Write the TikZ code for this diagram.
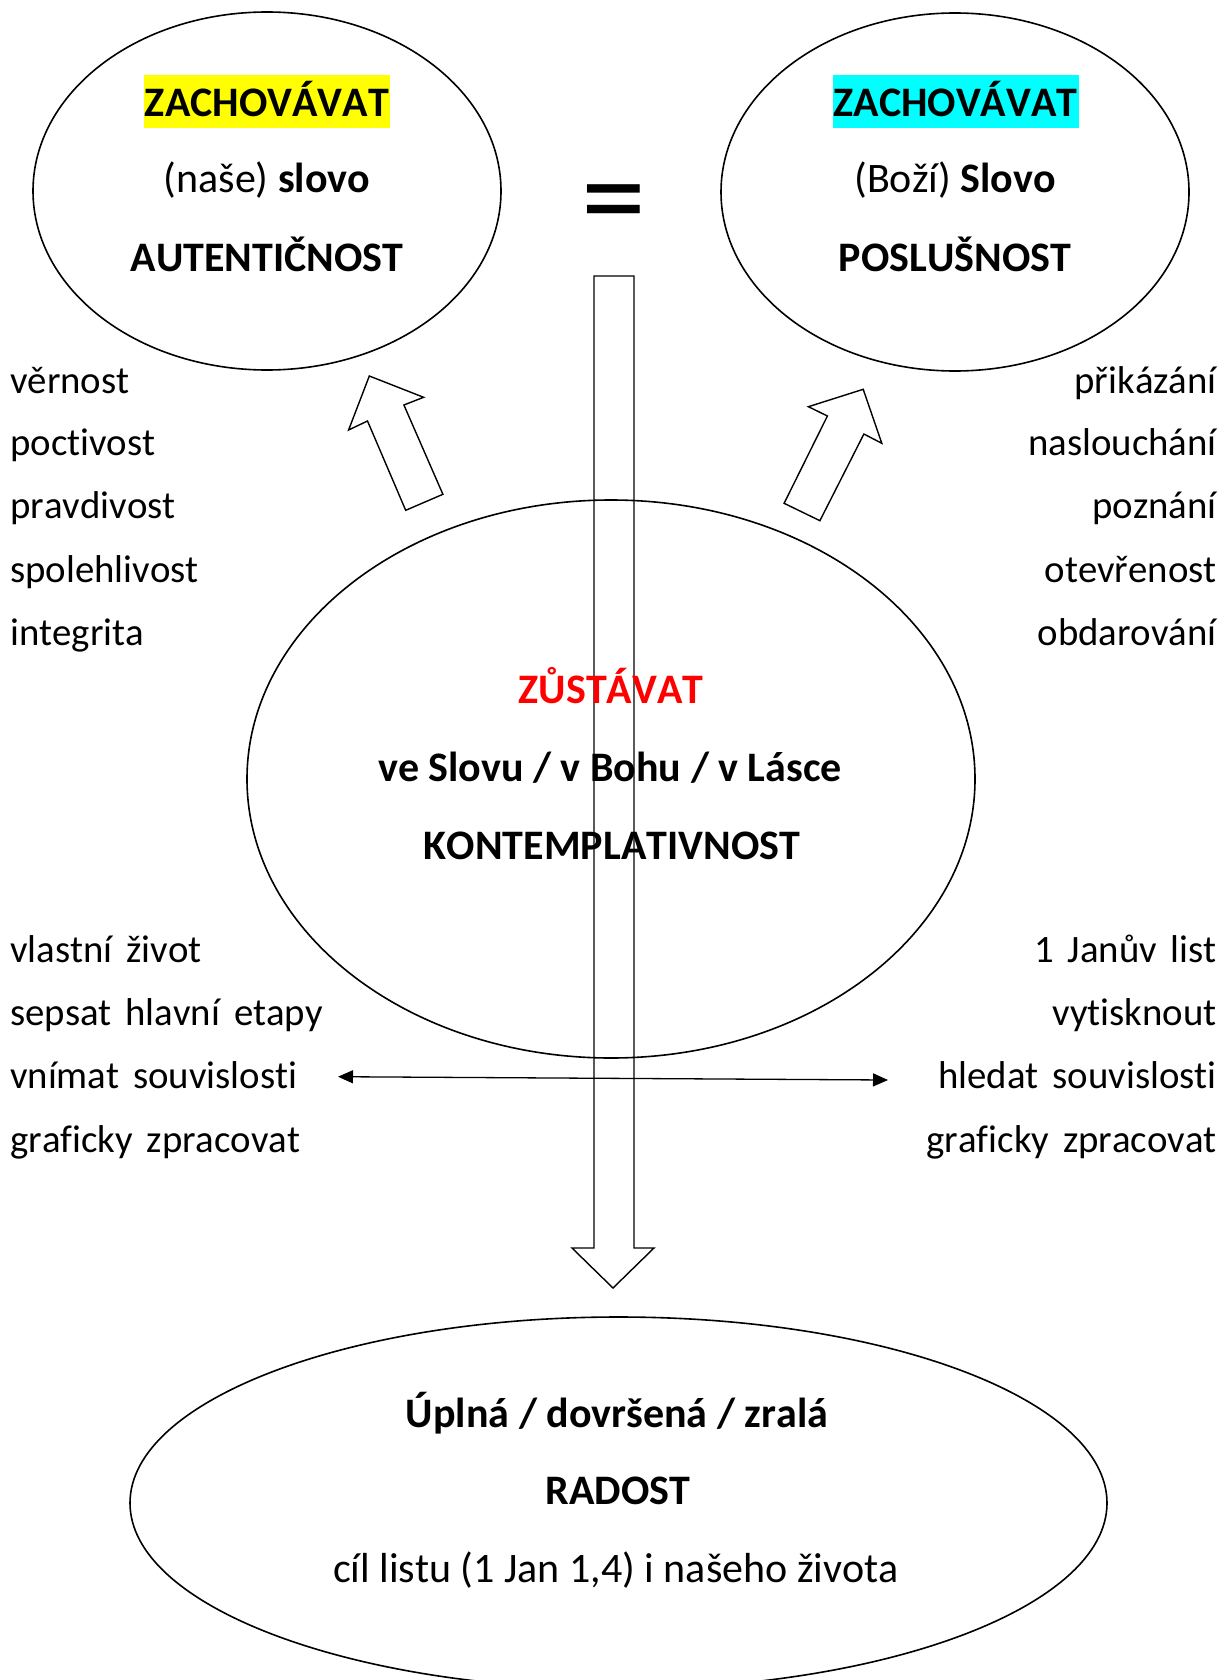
\documentclass[tikz,border=0pt]{standalone}
\usepackage{fontspec}
\setmainfont{Carlito}[Kerning=Off, Ligatures=CommonOff]
\usepackage{xcolor}
\definecolor{hlyellow}{RGB}{255,255,0}
\definecolor{hlcyan}{RGB}{0,255,255}
\definecolor{myred}{RGB}{255,0,0}
\usepackage{tikz}
\usetikzlibrary{arrows.meta,shapes.geometric}
\newcommand\sidefont{\fontsize{38.8}{46}\selectfont\spaceskip=13.8pt\relax}

\begin{document}
\begin{tikzpicture}[x=1pt,y=-1pt,
    bubble/.style={draw, ellipse, line width=1.6pt, inner sep=0pt},
    big/.style={font=\fontsize{42}{50}\selectfont, anchor=base, inner sep=0pt},
    side/.style={font=\sidefont, inner sep=0pt},
    marker/.style={text height=42pt, text depth=11pt, inner xsep=1pt},
    blockarrow/.style={draw, line width=1.4pt, line join=miter}]
            % Page
            \useasboundingbox (0,0) rectangle (1231,1680);
            % Ellipses
            \node[bubble, minimum width=468pt, minimum height=358pt] (keep) at (267,191) {};
            \node[bubble, minimum width=468pt, minimum height=358pt] (obey) at (955,192) {};
            \node[bubble, minimum width=728pt, minimum height=558pt] (stay) at (611,779) {};
            \node[bubble, minimum width=977pt, minimum height=372pt] (joy) at (618.5,1503) {};
            % Left ellipse
            \node[big, marker, fill=hlyellow] (keepverb) at (267,117) {\textbf{ZACHOVÁVAT}};
            \node[big] (keepobj) at (267,193) {(naše) \textbf{slovo}};
            \node[big] (keepname) at (267,271) {\textbf{AUTENTIČNOST}};
            % Right ellipse
            \node[big, marker, fill=hlcyan] (obeyverb) at (955.5,117) {\textbf{ZACHOVÁVAT}};
            \node[big] (obeyobj) at (955,193) {(Boží) \textbf{Slovo}};
            \node[big] (obeyname) at (955,271) {\textbf{POSLUŠNOST}};
            % Equals
            \node[font=\fontsize{130}{130}\selectfont, inner sep=0pt] (equal) at (614,213) {=};
            % Block arrows
            \draw[blockarrow] (369.3,376) -- (423.6,397.3) -- (403.9,405) -- (442.9,494.3)
                -- (405.7,510.3) -- (367.5,421) -- (348.6,430) -- cycle;
            \draw[blockarrow] (863.2,389.3) -- (881.8,443.3) -- (863.9,434) -- (819.9,520.7)
                -- (784.1,503.3) -- (827.4,416) -- (808.4,406.7) -- cycle;
            \draw[blockarrow] (594,276) -- (634,276) -- (634,1248) -- (654,1248) -- (613,1288)
                -- (572,1248) -- (594,1248) -- cycle;
            % Middle ellipse
            \node[big, text=myred] (stayverb) at (611,703) {\textbf{ZŮSTÁVAT}};
            \node[big] (stayobj) at (610,781) {\textbf{ve Slovu / v Bohu / v Lásce}};
            \node[big] (stayname) at (612,859) {\textbf{KONTEMPLATIVNOST}};
            % Bottom ellipse
            \node[big] (joyhow) at (617,1427) {\textbf{Úplná / dovršená / zralá}};
            \node[big] (joyname) at (618,1504) {\textbf{RADOST}};
            \node[big] (joygoal) at (616,1582) {cíl listu (1 Jan 1,4) i našeho života};
            % Left column
            \node[side, anchor=base west] (faith) at (10,393) {věrnost};
            \node[side, anchor=base west] (honest) at (10,455) {poctivost};
            \node[side, anchor=base west] (truth) at (10,518) {pravdivost};
            \node[side, anchor=base west] (trust) at (10,582) {spolehlivost};
            \node[side, anchor=base west] (whole) at (10,645) {integrita};
            \node[side, anchor=base west] (ownlife) at (10,962) {vlastní život};
            \node[side, anchor=base west] (stages) at (10,1025) {sepsat hlavní etapy};
            \node[side, anchor=base west] (perceive) at (10,1088) {vnímat souvislosti};
            \node[side, anchor=base west] (drawl) at (10,1152) {graficky zpracovat};
            % Right column
            \node[side, anchor=base east] (command) at (1217,393) {přikázání};
            \node[side, anchor=base east] (listen) at (1217,455) {naslouchání};
            \node[side, anchor=base east] (know) at (1217,518) {poznání};
            \node[side, anchor=base east] (open) at (1217,582) {otevřenost};
            \node[side, anchor=base east] (gift) at (1217,645) {obdarování};
            \node[side, anchor=base east] (letter) at (1217,962) {1 Janův list};
            \node[side, anchor=base east] (print) at (1217,1025) {vytisknout};
            \node[side, anchor=base east] (search) at (1217,1088) {hledat souvislosti};
            \node[side, anchor=base east] (drawr) at (1217,1152) {graficky zpracovat};
            % Double arrow
            \coordinate (lend) at (338,1076.7);
            \coordinate (rend) at (888,1080);
            \draw[{Triangle[length=15pt,width=13pt]}-{Triangle[length=15pt,width=13pt]}, line width=1.3pt] (lend) -- (rend);
\end{tikzpicture}
\end{document}
